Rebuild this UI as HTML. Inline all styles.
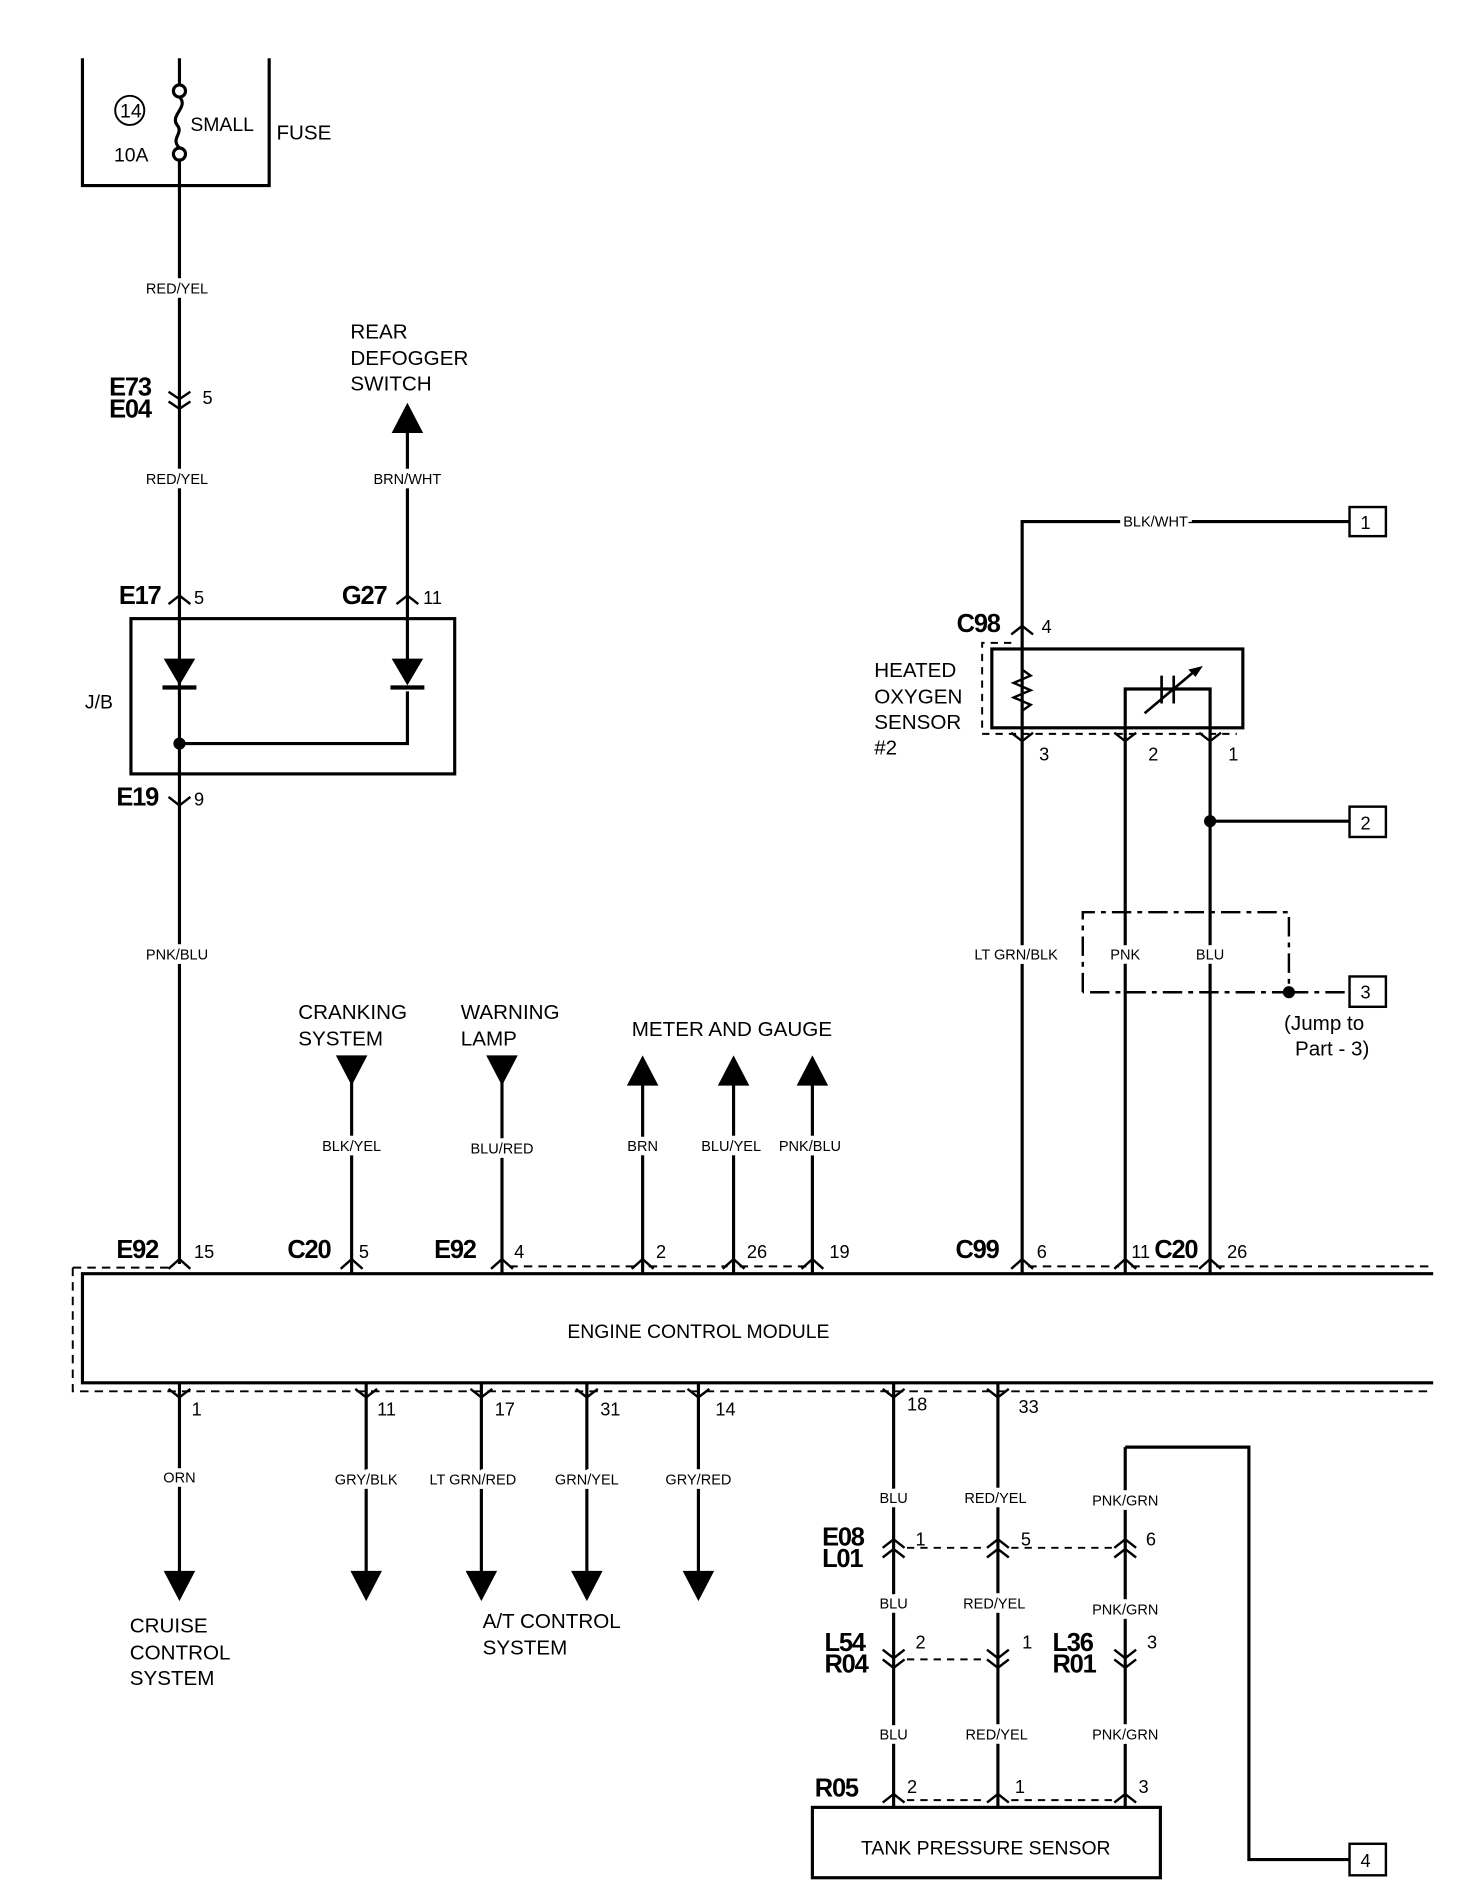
<!DOCTYPE html>
<html><head><meta charset="utf-8"><style>
html,body{margin:0;padding:0;background:#fff}
svg{display:block}
text{font-family:"Liberation Sans",Arial,sans-serif;fill:#000}
.s{font-size:12px}
.m{font-size:17px}
.b{font-size:21px;font-weight:bold;letter-spacing:-1px}
.n{font-size:15px}
.w{stroke:#fff;stroke-width:7px;paint-order:stroke}
</style></head><body>
<svg width="1472" height="1902" viewBox="0 0 1214 1568" preserveAspectRatio="none" xmlns="http://www.w3.org/2000/svg">
<g stroke="#000" stroke-width="2.6" fill="none">
<path d="M68 48 V153 H222 V48"/>
<path d="M148 48 V70 M148 132 V1042"/>
<circle cx="148" cy="75" r="5"/><circle cx="148" cy="127" r="5"/>
<path d="M148 80 C156 88 140 95 146 103 C152 110 140 114 148 122"/>
<circle cx="107" cy="91" r="12" stroke-width="1.6"/>
<path d="M139 323 L148 329 L157 323 M139 331 L148 337 L157 331" stroke-width="2"/>
<path d="M139 498 L148 491 L157 498 M327 498 L336 491 L345 498" stroke-width="2"/>
<rect x="108" y="510" width="267" height="128"/>
<path d="M148 613 H336 V570"/>
<path d="M336 357 V548"/>
<path d="M139 657 L148 664 L157 657" stroke-width="2"/>
</g>
<polygon points="135,543 161,543 148,565" fill="#000"/>
<rect x="134" y="565" width="28" height="3.5" fill="#000"/>
<polygon points="323,543 349,543 336,565" fill="#000"/>
<rect x="322" y="565" width="28" height="3.5" fill="#000"/>
<circle cx="148" cy="613" r="5" fill="#000"/>
<polygon points="336,332 323,357 349,357" fill="#000"/>

<g stroke="#000" stroke-width="2.6" fill="none">
<path d="M1182 1050 H68 V1140 H1182"/>
<path d="M60 1045 H143 M60 1045 V1147 H1182" stroke-width="1.6" stroke-dasharray="7,5"/>
<path d="M420 1044 H525 M535 1044 H600 M610 1044 H665 M848 1044 H923 M933 1044 H993 M1003 1044 H1182" stroke-width="1.6" stroke-dasharray="7,5"/>
<path d="M290 880 V1050 M414 880 V1050 M530 890 V1050 M605 890 V1050 M670 890 V1050"/>
<path d="M139 1046 L148 1038 L157 1046 M281 1046 L290 1038 L299 1046 M405 1046 L414 1038 L423 1046 M521 1046 L530 1038 L539 1046 M596 1046 L605 1038 L614 1046 M661 1046 L670 1038 L679 1046 M834 1046 L843 1038 L852 1046 M919 1046 L928 1038 L937 1046 M989 1046 L998 1038 L1007 1046" stroke-width="2"/>
<path d="M148 1140 V1300 M302 1140 V1300 M397 1140 V1300 M484 1140 V1300 M576 1140 V1300"/>
<path d="M139 1145 L148 1152 L157 1145 M293 1145 L302 1152 L311 1145 M388 1145 L397 1152 L406 1145 M475 1145 L484 1152 L493 1145 M567 1145 L576 1152 L585 1145 M728 1145 L737 1152 L746 1145 M814 1145 L823 1152 L832 1145" stroke-width="2"/>
<path d="M737 1140 V1490 M823 1140 V1490 M928 1193 V1490 M928 1193 H1030 V1533 H1113"/>
<path d="M728 1276 L737 1269 L746 1276 M728 1284 L737 1277 L746 1284 M814 1276 L823 1269 L832 1276 M814 1284 L823 1277 L832 1284 M919 1276 L928 1269 L937 1276 M919 1284 L928 1277 L937 1284" stroke-width="2"/>
<path d="M748 1276 H812 M834 1276 H917" stroke-width="1.6" stroke-dasharray="6,5"/>
<path d="M728 1360 L737 1367 L746 1360 M728 1368 L737 1375 L746 1368 M814 1360 L823 1367 L832 1360 M814 1368 L823 1375 L832 1368 M919 1360 L928 1367 L937 1360 M919 1368 L928 1375 L937 1368" stroke-width="2"/>
<path d="M748 1368 H812" stroke-width="1.6" stroke-dasharray="6,5"/>
<path d="M728 1486 L737 1479 L746 1486 M814 1486 L823 1479 L832 1486 M919 1486 L928 1479 L937 1486" stroke-width="2"/>
<path d="M748 1484 H812 M834 1484 H917" stroke-width="1.6" stroke-dasharray="6,5"/>
<rect x="670" y="1490" width="287" height="58"/>
<rect x="1113" y="1520" width="30" height="26" stroke-width="2"/>
<path d="M843 1050 V430 H1113 M928 1050 V568 H998 V1050 M998 677 H1113"/>
<path d="M843 552 L850 557 L836 563 L850 569 L836 575 L850 581 L843 586" stroke-width="2"/>
<rect x="818" y="535" width="207" height="65"/>
<path d="M810 600 V530 H835 M810 605 H1020" stroke-width="1.6" stroke-dasharray="6,5"/>
<path d="M834 604 L843 611 L852 604 M919 604 L928 611 L937 604 M989 604 L998 611 L1007 604 M834 523 L843 516 L852 523" stroke-width="2"/>
<path d="M958 557 V580 M968 557 V580 M944 588 L988 551" stroke-width="2.2"/>
<path d="M893 818 V752 H1063 V818 H893 M1063 818 H1113" stroke-width="2" stroke-dasharray="16,5,4,5"/>
<rect x="1113" y="418" width="30" height="24" stroke-width="2"/>
<rect x="1113" y="665" width="30" height="25" stroke-width="2"/>
<rect x="1113" y="805" width="30" height="25" stroke-width="2"/>
</g>
<polygon points="992,549 980,552 986,558" fill="#000"/>
<circle cx="998" cy="677" r="5" fill="#000"/>
<circle cx="1063" cy="818" r="5" fill="#000"/>
<g fill="#000">
<polygon points="277,870 303,870 290,895"/>
<polygon points="401,870 427,870 414,895"/>
<polygon points="530,870 517,895 543,895"/>
<polygon points="605,870 592,895 618,895"/>
<polygon points="670,870 657,895 683,895"/>
<polygon points="135,1295 161,1295 148,1320"/>
<polygon points="289,1295 315,1295 302,1320"/>
<polygon points="384,1295 410,1295 397,1320"/>
<polygon points="471,1295 497,1295 484,1320"/>
<polygon points="563,1295 589,1295 576,1320"/>
</g>

<text class="n" x="99" y="97" style="font-size:16px">14</text>
<text class="m" x="94" y="133" style="font-size:16px">10A</text>
<text class="m" x="157" y="108" style="font-size:16px">SMALL</text>
<text class="m" x="228" y="115">FUSE</text>
<g class="s w" text-anchor="middle">
<text x="146" y="242">RED/YEL</text>
<text x="146" y="399">RED/YEL</text>
<text x="336" y="399">BRN/WHT</text>
<text x="146" y="791">PNK/BLU</text>
<text x="290" y="949">BLK/YEL</text>
<text x="414" y="951">BLU/RED</text>
<text x="530" y="949">BRN</text>
<text x="603" y="949">BLU/YEL</text>
<text x="668" y="949">PNK/BLU</text>
<text x="838" y="791">LT GRN/BLK</text>
<text x="928" y="791">PNK</text>
<text x="998" y="791">BLU</text>
<text x="953" y="434">BLK/WHT</text>
<text x="148" y="1222">ORN</text>
<text x="302" y="1224">GRY/BLK</text>
<text x="390" y="1224">LT GRN/RED</text>
<text x="484" y="1224">GRN/YEL</text>
<text x="576" y="1224">GRY/RED</text>
<text x="737" y="1239">BLU</text>
<text x="821" y="1239">RED/YEL</text>
<text x="928" y="1241">PNK/GRN</text>
<text x="737" y="1326">BLU</text>
<text x="820" y="1326">RED/YEL</text>
<text x="928" y="1331">PNK/GRN</text>
<text x="737" y="1434">BLU</text>
<text x="822" y="1434">RED/YEL</text>
<text x="928" y="1434">PNK/GRN</text>
</g>
<text class="b" x="90" y="326">E73</text>
<text class="b" x="90" y="344">E04</text>
<text class="n" x="167" y="333">5</text>
<text class="m" x="289" y="279">REAR</text>
<text class="m" x="289" y="301">DEFOGGER</text>
<text class="m" x="289" y="322">SWITCH</text>
<text class="b" x="98" y="498">E17</text>
<text class="n" x="160" y="498">5</text>
<text class="b" x="282" y="498">G27</text>
<text class="n" x="349" y="498">11</text>
<text class="m" x="70" y="584" style="font-size:16px">J/B</text>
<text class="b" x="96" y="664">E19</text>
<text class="n" x="160" y="664">9</text>
<text class="m" x="246" y="840">CRANKING</text>
<text class="m" x="246" y="862">SYSTEM</text>
<text class="m" x="380" y="840">WARNING</text>
<text class="m" x="380" y="862">LAMP</text>
<text class="m" x="521" y="854">METER AND GAUGE</text>
<text class="b" x="96" y="1037">E92</text>
<text class="n" x="160" y="1037">15</text>
<text class="b" x="237" y="1037">C20</text>
<text class="n" x="296" y="1037">5</text>
<text class="b" x="358" y="1037">E92</text>
<text class="n" x="424" y="1037">4</text>
<text class="n" x="541" y="1037">2</text>
<text class="n" x="616" y="1037">26</text>
<text class="n" x="684" y="1037">19</text>
<text class="b" x="788" y="1037">C99</text>
<text class="n" x="855" y="1037">6</text>
<text class="n" x="933" y="1037">11</text>
<text class="b" x="952" y="1037">C20</text>
<text class="n" x="1012" y="1037">26</text>
<text class="m" x="576" y="1103" text-anchor="middle" style="font-size:16px">ENGINE CONTROL MODULE</text>
<text class="n" x="158" y="1167">1</text>
<text class="n" x="311" y="1167">11</text>
<text class="n" x="408" y="1167">17</text>
<text class="n" x="495" y="1167">31</text>
<text class="n" x="590" y="1167">14</text>
<text class="n" x="748" y="1163">18</text>
<text class="n" x="840" y="1165">33</text>
<text class="m" x="107" y="1346">CRUISE</text>
<text class="m" x="107" y="1368">CONTROL</text>
<text class="m" x="107" y="1389">SYSTEM</text>
<text class="m" x="398" y="1342">A/T CONTROL</text>
<text class="m" x="398" y="1364">SYSTEM</text>
<text class="b" x="678" y="1274">E08</text>
<text class="b" x="678" y="1292">L01</text>
<text class="n" x="755" y="1274">1</text>
<text class="n" x="842" y="1274">5</text>
<text class="n" x="945" y="1274">6</text>
<text class="b" x="680" y="1361">L54</text>
<text class="b" x="680" y="1379">R04</text>
<text class="n" x="755" y="1359">2</text>
<text class="n" x="843" y="1359">1</text>
<text class="b" x="868" y="1361">L36</text>
<text class="b" x="868" y="1379">R01</text>
<text class="n" x="946" y="1359">3</text>
<text class="b" x="672" y="1481">R05</text>
<text class="n" x="748" y="1478">2</text>
<text class="n" x="837" y="1478">1</text>
<text class="n" x="939" y="1478">3</text>
<text class="m" x="813" y="1529" text-anchor="middle" style="font-size:16px">TANK PRESSURE SENSOR</text>
<text class="b" x="789" y="521">C98</text>
<text class="n" x="859" y="522">4</text>
<text class="m" x="721" y="558">HEATED</text>
<text class="m" x="721" y="580">OXYGEN</text>
<text class="m" x="721" y="601">SENSOR</text>
<text class="m" x="721" y="622">#2</text>
<text class="n" x="857" y="627">3</text>
<text class="n" x="947" y="627">2</text>
<text class="n" x="1013" y="627">1</text>
<text class="n" x="1122" y="436">1</text>
<text class="n" x="1122" y="684">2</text>
<text class="n" x="1122" y="823">3</text>
<text class="n" x="1122" y="1539">4</text>
<text class="m" x="1059" y="849">(Jump to</text>
<text class="m" x="1068" y="870">Part - 3)</text>
</svg>
</body></html>
